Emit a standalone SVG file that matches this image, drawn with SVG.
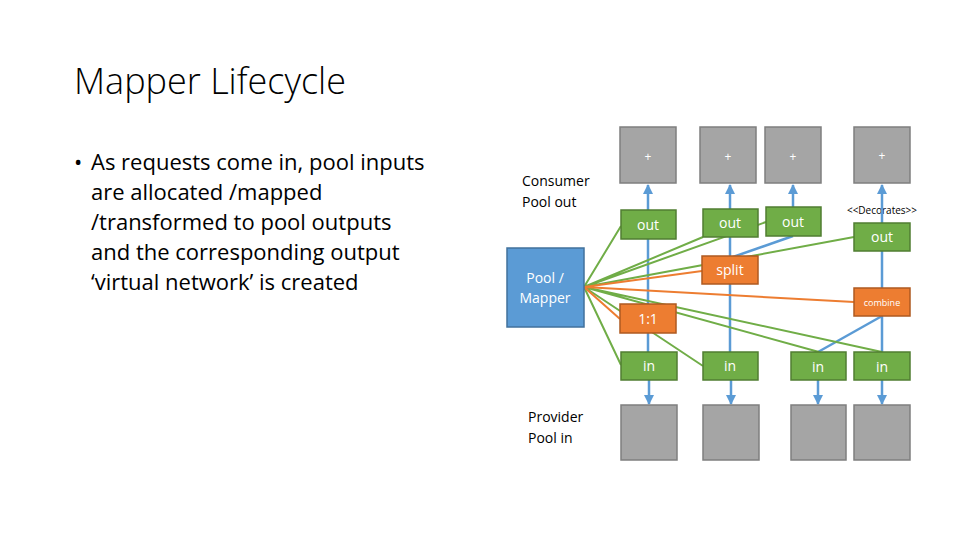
<svg xmlns="http://www.w3.org/2000/svg" width="960" height="540" viewBox="0 0 960 540">
<defs>
<marker id="ah" viewBox="0 0 10 10" refX="9" refY="5" markerWidth="4" markerHeight="4" orient="auto"><path d="M0,0L10,5L0,10z" fill="#5b9bd5"/></marker>
<style>
.gray{fill:#a5a5a5;stroke:#7f7f7f;stroke-width:1.5}
.grn{fill:#70ad47;stroke:#507e32;stroke-width:1.5}
.org{fill:#ed7d31;stroke:#ae5a21;stroke-width:1.5}
.bl{stroke:#5b9bd5;stroke-width:2.5;fill:none}
.ba{stroke:#5b9bd5;stroke-width:2.5;fill:none;marker-end:url(#ah)}
.gl{stroke:#70ad47;stroke-width:2;fill:none}
.ol{stroke:#ed7d31;stroke-width:2;fill:none}
.w{fill:#fff;font-family:"Open Sans","Liberation Sans",sans-serif;text-anchor:middle}
.k{fill:#000;font-family:"Open Sans","Liberation Sans",sans-serif}
</style>
</defs>
<rect width="960" height="540" fill="#fff"/>
<text x="74" y="94" class="k" font-size="36" font-weight="300" fill="#222">Mapper Lifecycle</text>
<g class="k" font-size="22" fill="#222">
<text x="74" y="170">•</text>
<text x="91" y="170">As requests come in, pool inputs</text>
<text x="91" y="200">are allocated /mapped</text>
<text x="91" y="230">/transformed to pool outputs</text>
<text x="91" y="260">and the corresponding output</text>
<text x="91" y="290">‘virtual network’ is created</text>
</g>
<g id="labels" class="k" font-size="14">
<text x="522" y="186">Consumer</text><text x="522" y="207">Pool out</text>
<text x="528" y="422">Provider</text><text x="528" y="443">Pool in</text>
<text x="882" y="214" font-size="10" text-anchor="middle">&lt;&lt;Decorates&gt;&gt;</text>
</g>
<g id="connectors">
<path class="ba" d="M648,352V185"/>
<path class="ba" d="M730,256V185"/>
<path class="bl" d="M730,352V284"/>
<path class="bl" d="M730,237V209"/>
<path class="ba" d="M793,207V185"/>
<path class="bl" d="M730,258L793,236"/>
<path class="ba" d="M882,288V185"/>
<path class="bl" d="M818,352L882,316M882,352V316"/>
<path class="ba" d="M649,380V404"/><path class="ba" d="M731,380V404"/><path class="ba" d="M818,380V404"/><path class="ba" d="M882,380V404"/>
<path class="gl" d="M584,287L621,226M584,287L766,222M584,287L703,237M584,287L854,237M584,287L621,365M584,287L819,352M584,287L882,352M584,287L703,366"/>
<path class="ol" d="M584,287L702,271M584,287L854,302M584,287L620,319"/>
</g>
<g id="top1"><rect class="gray" x="620" y="127" width="56" height="56"/><text class="w" x="648" y="161" font-size="12">+</text></g>
<g id="top2"><rect class="gray" x="700" y="127" width="56" height="56"/><text class="w" x="728" y="161" font-size="12">+</text></g>
<g id="top3"><rect class="gray" x="765" y="127" width="56" height="56"/><text class="w" x="793" y="161" font-size="12">+</text></g>
<g id="top4"><rect class="gray" x="854" y="127" width="56" height="56"/><text class="w" x="882" y="160" font-size="12">+</text></g>
<g id="out1"><rect class="grn" x="621" y="210" width="55" height="29"/><text class="w" x="648" y="230" font-size="14">out</text></g>
<g id="out2"><rect class="grn" x="703" y="209" width="55" height="28"/><text class="w" x="730" y="228" font-size="14">out</text></g>
<g id="out3"><rect class="grn" x="766" y="207" width="55" height="29"/><text class="w" x="793" y="227" font-size="14">out</text></g>
<g id="out4"><rect class="grn" x="854" y="223" width="56" height="28"/><text class="w" x="882" y="242" font-size="14">out</text></g>
<g id="split"><rect class="org" x="702" y="256" width="56" height="28"/><text class="w" x="730" y="275" font-size="14">split</text></g>
<g id="combine"><rect class="org" x="854" y="288" width="56" height="28"/><text class="w" x="882" y="306" font-size="9">combine</text></g>
<g id="one"><rect class="org" x="620" y="304" width="56" height="29"/><text class="w" x="648" y="324" font-size="14">1:1</text></g>
<g id="in1"><rect class="grn" x="621" y="352" width="56" height="28"/><text class="w" x="649" y="371" font-size="14">in</text></g>
<g id="in2"><rect class="grn" x="703" y="352" width="55" height="28"/><text class="w" x="730" y="371" font-size="14">in</text></g>
<g id="in3"><rect class="grn" x="791" y="352" width="55" height="28"/><text class="w" x="818" y="372" font-size="14">in</text></g>
<g id="in4"><rect class="grn" x="854" y="352" width="56" height="28"/><text class="w" x="882" y="372" font-size="14">in</text></g>
<g id="bot1"><rect class="gray" x="621" y="405" width="56" height="55"/></g>
<g id="bot2"><rect class="gray" x="703" y="405" width="56" height="55"/></g>
<g id="bot3"><rect class="gray" x="791" y="405" width="55" height="55"/></g>
<g id="bot4"><rect class="gray" x="854" y="405" width="56" height="55"/></g>
<g id="mapper"><rect x="507" y="248" width="77" height="79" fill="#5b9bd5" stroke="#41719c" stroke-width="1.5"/><text class="w" x="545" y="283" font-size="14">Pool /</text><text class="w" x="545" y="303" font-size="14">Mapper</text></g>
</svg>
